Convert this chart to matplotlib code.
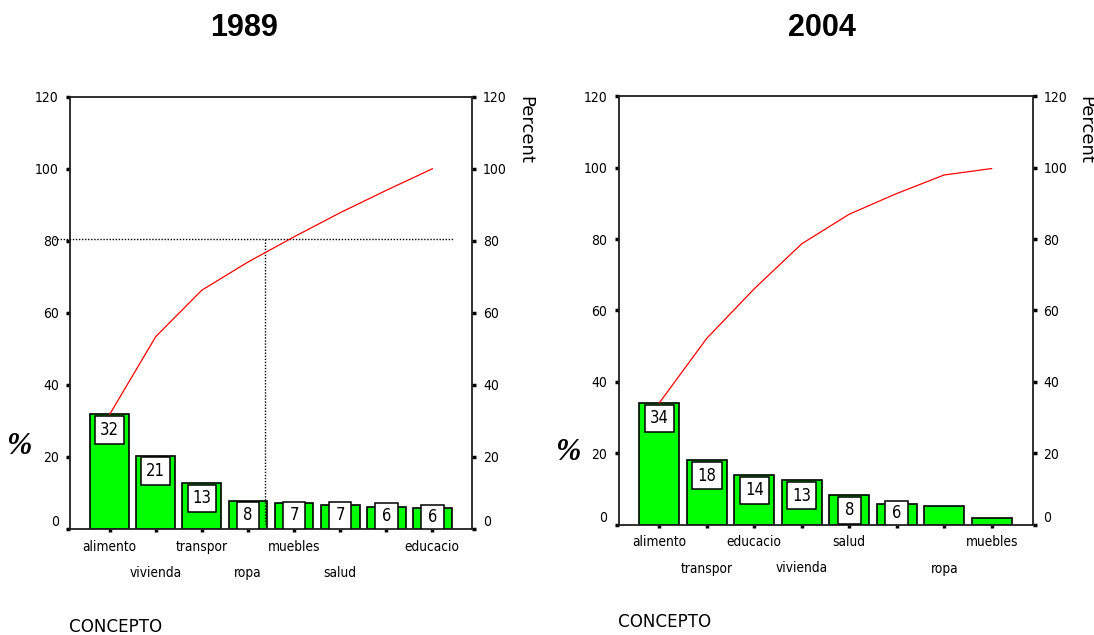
import matplotlib
matplotlib.use("Agg")
import matplotlib.pyplot as plt
from matplotlib.patches import Rectangle
from matplotlib import font_manager as fm

# ---------------- data ----------------
cat89 = ['alimento', 'vivienda', 'transpor', 'ropa', 'muebles', 'salud', '', 'educacio']
bar89 = [31.8, 20.4, 12.8, 7.8, 7.2, 6.65, 6.2, 5.7]
lab89 = ['32', '21', '13', '8', '7', '7', '6', '6']
cum89 = [31.8, 53.4, 66.3, 74.1, 81.1, 87.8, 94.0, 100.0]

cat04 = ['alimento', 'transpor', 'educacio', 'vivienda', 'salud', '', 'ropa', 'muebles']
bar04 = [34.1, 18.0, 13.9, 12.4, 8.3, 5.8, 5.2, 1.8]
lab04 = ['34', '18', '14', '13', '8', '6', '', '']
cum04 = [34.1, 52.2, 66.1, 78.7, 87.0, 92.8, 98.0, 99.8]

yticks = [0, 20, 40, 60, 80, 100, 120]
ref89_y = 80.5
ref89_x = 3.37

# pick a narrow sans font if one is installed
NARROW = dict(family=['Liberation Sans', 'DejaVu Sans'])
NARROW_SCALE = 1.0
try:
    p = fm.findfont(fm.FontProperties(family='Liberation Sans Narrow'), fallback_to_default=False)
    if 'Narrow' in p:
        NARROW = dict(family=['Liberation Sans Narrow', 'Liberation Sans'])
        NARROW_SCALE = 1.15
except Exception:
    pass
if NARROW_SCALE == 1.0:
    try:
        p = fm.findfont(fm.FontProperties(family='DejaVu Sans', stretch='condensed'),
                        fallback_to_default=False)
        if 'Condensed' in p:
            NARROW = dict(family=['DejaVu Sans'], stretch='condensed')
            NARROW_SCALE = 0.95
    except Exception:
        pass


def nf(size):
    return fm.FontProperties(size=size * NARROW_SCALE, **NARROW)


fig = plt.figure(figsize=(10.94, 6.35), dpi=100)


def pareto(rect, cats, bars, labs, cum, title, title_x, pct_xy, percent_x, concepto_xy):
    ax = fig.add_axes(rect)
    n = len(bars)
    xs = list(range(n))
    ax.bar(xs, bars, width=0.84, color='#00ff00', edgecolor='black', linewidth=1.2, zorder=2)
    ax.plot(xs, cum, color='#ff0000', lw=0.9, zorder=4)
    ax.set_xlim(-0.86, n - 1 + 0.86)
    ax.set_ylim(0, 120)
    ax.set_yticks(yticks)
    ax.set_yticklabels([str(v) for v in yticks], fontproperties=nf(10.5))
    ax.tick_params(axis='y', left=True, right=True, labelleft=True, labelright=True,
                   length=3, width=2.5, direction='out', pad=5, colors='black')
    for lab in ax.get_yticklabels(which='major'):
        if lab.get_text() == '0':
            lab.set_va('bottom')
    ax.set_xticks(xs)
    ax.set_xticklabels([])
    ax.tick_params(axis='x', length=2.5, width=2.5, direction='out')
    for s in ax.spines.values():
        s.set_linewidth(1.3)
        s.set_color('#202020')

    # value boxes
    for i, (b, t) in enumerate(zip(bars, labs)):
        if not t:
            continue
        top = max(b - 0.5, min(b + 0.9, 7.5))
        bot = max(0.0, top - 7.6)
        w = 0.36 + 0.13 * len(t)
        ax.add_patch(Rectangle((i - w / 2, bot), w, top - bot, facecolor='white',
                               edgecolor='black', linewidth=1.1, zorder=3))
        ax.text(i, (top + bot) / 2, t, ha='center', va='center',
                fontproperties=nf(12.5), zorder=5)

    # staggered category labels (alternate among non-empty labels)
    k = 0
    for i, c in enumerate(cats):
        if not c:
            continue
        off = -22 if k % 2 == 0 else -48
        ax.annotate(c, xy=(i, 0), xycoords=('data', 'axes fraction'),
                    xytext=(0, off), textcoords='offset pixels',
                    ha='center', va='baseline', fontproperties=nf(10.3))
        k += 1

    fig.text(title_x / 1094, 1 - 28.5 / 635, title, ha='center', va='center',
             fontsize=22, fontweight='bold', fontfamily=['Liberation Sans', 'DejaVu Sans'])
    fig.text(pct_xy[0] / 1094, 1 - pct_xy[1] / 635, '%', ha='center', va='center',
             fontsize=22, fontweight='bold', fontstyle='italic',
             fontfamily=['Liberation Serif', 'DejaVu Serif'])
    fig.text(percent_x / 1094, 1 - 96.5 / 635, 'Percent', rotation=270,
             ha='center', va='top', fontsize=13, fontfamily='DejaVu Sans')
    fig.text(concepto_xy[0] / 1094, 1 - concepto_xy[1] / 635, 'CONCEPTO',
             ha='left', va='baseline', fontproperties=nf(14))
    return ax


ax1 = pareto([70 / 1094, (635 - 529) / 635, 402 / 1094, (529 - 96.7) / 635],
             cat89, bar89, lab89, cum89, '1989', 244, (19, 447), 525, (69, 632))
ax1.plot([-1.2, 7.44], [ref89_y, ref89_y], color='black', lw=1.0,
         linestyle=(0, (1, 1.2)), clip_on=False, zorder=3)
ax1.plot([ref89_x, ref89_x], [ref89_y, 1.5], color='black', lw=1.0,
         linestyle=(0, (1, 1.2)), zorder=3)

ax2 = pareto([618.5 / 1094, (635 - 524.5) / 635, 414 / 1094, (524.5 - 96.5) / 635],
             cat04, bar04, lab04, cum04, '2004', 822, (568, 453), 1085, (618, 627))

fig.savefig('out.png', dpi=100)
